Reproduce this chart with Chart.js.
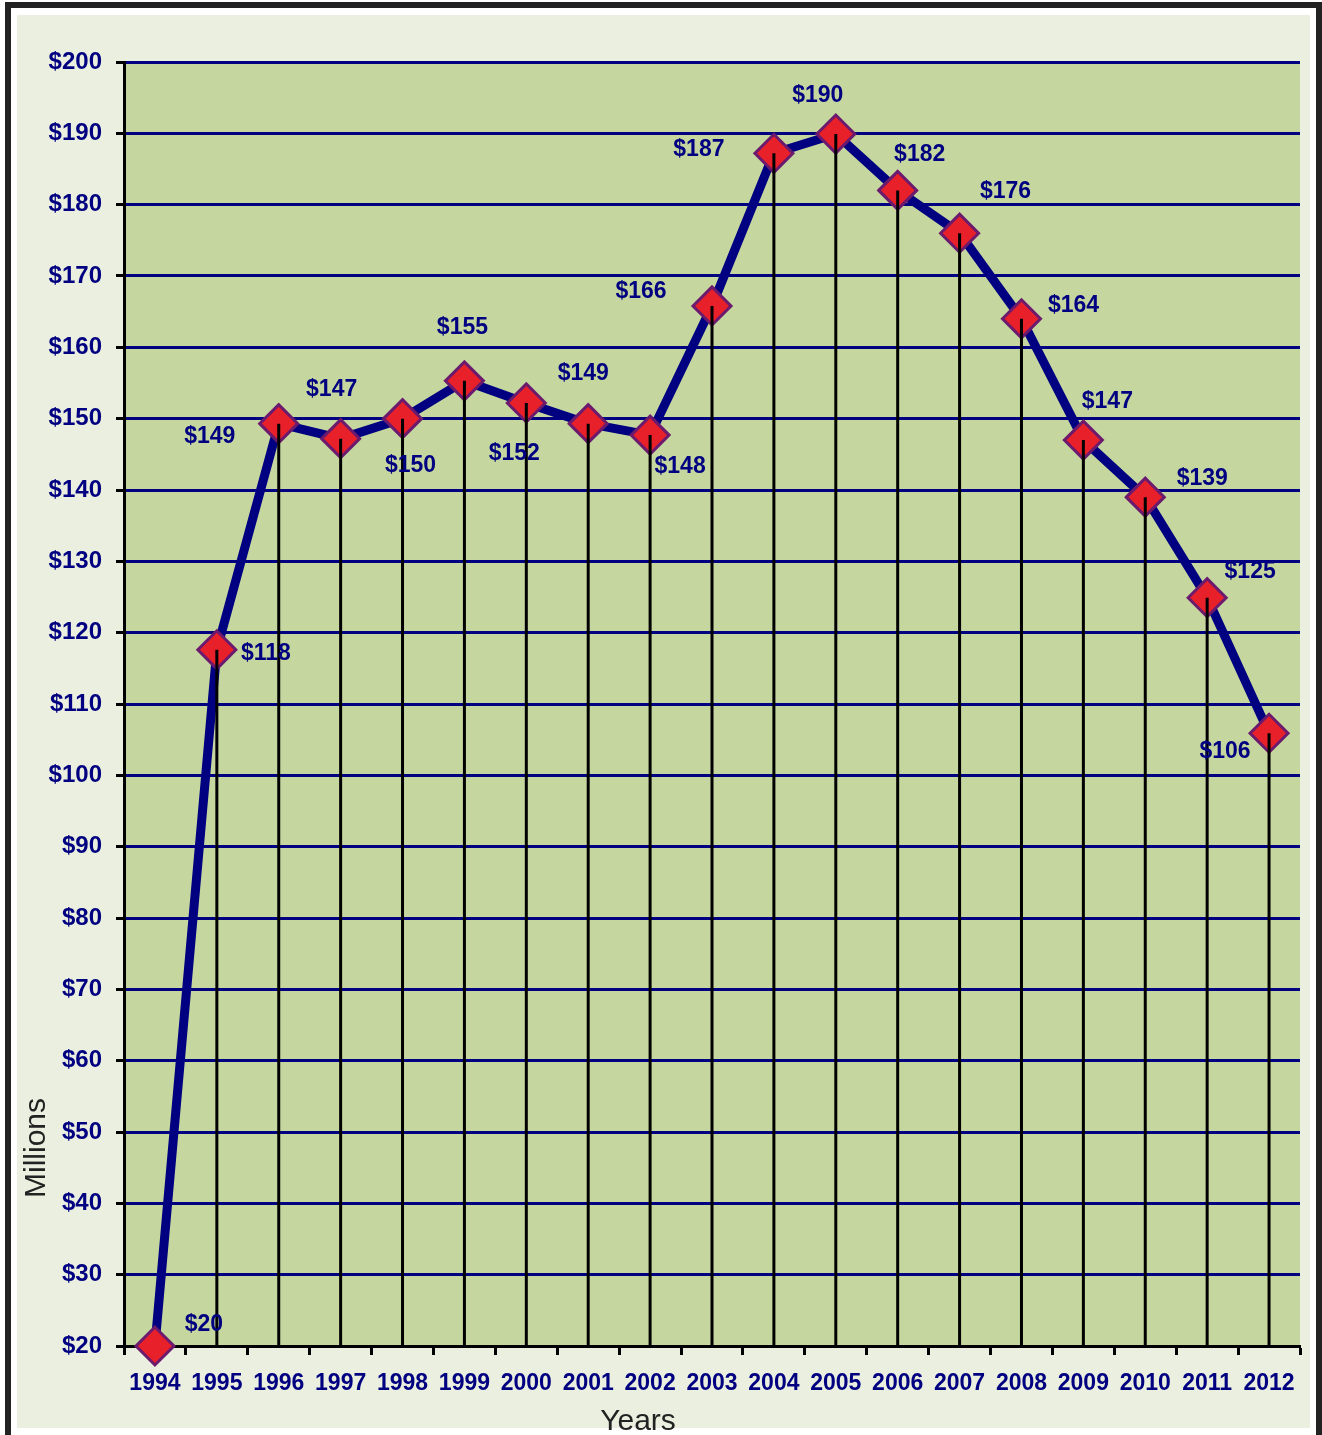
<!DOCTYPE html>
<html>
<head>
<meta charset="utf-8">
<script src="https://cdn.jsdelivr.net/npm/chart.js@4.4.0/dist/chart.umd.min.js"></script>
<style>
body{margin:0;background:#fff;width:1322px;height:1435px;overflow:hidden;position:relative;}
#frame{position:absolute;left:5px;top:2px;width:1305px;height:1450px;border:6px solid #222;border-bottom:none;}
#panel{position:absolute;left:17px;top:15px;width:1293px;height:1413px;background:#ebefdf;}
#chart{position:absolute;left:0;top:0;}
</style>
</head>
<body>
<div id="frame"></div>
<div id="panel"><canvas id="chart" width="1293" height="1420"></canvas></div>
<script>
// ---------------- DATA ----------------
const years = ["1994","1995","1996","1997","1998","1999","2000","2001","2002","2003",
  "2004","2005","2006","2007","2008","2009","2010","2011","2012"];
const millions = [20, 117.6, 149.3, 147.2, 150, 155.3, 152.2, 149.3, 147.7, 165.8,
  187.2, 189.9, 182, 176, 164, 147, 139, 124.9, 105.9];
const yTicks = { min: 20, max: 200, step: 10 };

// label offsets from each point (px)
const labelDx = [49, 49, -69, -9, 8, -2, -12, -5, 30, -71, -75, -18, 22, 46, 52, 24, 57, 43, -44];
const labelDy = [-21, 4, 13, -49, 47, -53, 51, -50, 32, -14, -4, -38, -36, -42, -13, -38, -18, -26, 18];

const NAVY = "#000080";
const FONT = "'Liberation Sans', Arial, sans-serif";

// ---------------- PLUGINS ----------------
const plotBg = {
  id: "plotBg",
  beforeDraw(c){
    const a = c.chartArea, ctx = c.ctx;
    ctx.save();
    ctx.fillStyle = "#c5d79f";
    ctx.fillRect(a.left, a.top, a.right - a.left, a.bottom - a.top);
    ctx.restore();
  }
};

const dropLines = {
  id: "dropLines",
  afterDatasetsDraw(c){
    const ctx = c.ctx, a = c.chartArea;
    const pts = c.getDatasetMeta(0).data;
    ctx.save();
    ctx.strokeStyle = "#000";
    ctx.lineWidth = 3;
    pts.forEach(p => {
      ctx.beginPath();
      ctx.moveTo(p.x, p.y);
      ctx.lineTo(p.x, a.bottom);
      ctx.stroke();
    });
    // value labels
    ctx.fillStyle = NAVY;
    ctx.font = "bold 23px " + FONT;
    ctx.textAlign = "center";
    ctx.textBaseline = "middle";
    pts.forEach((p, i) => {
      ctx.fillText("$" + Math.round(millions[i]), p.x + labelDx[i], p.y + labelDy[i]);
    });
    ctx.restore();
  }
};

const axisTitles = {
  id: "axisTitles",
  afterDraw(c){
    const ctx = c.ctx;
    ctx.save();
    ctx.fillStyle = "#222";
    ctx.font = "30px " + FONT;
    ctx.textAlign = "center";
    ctx.textBaseline = "alphabetic";
    ctx.fillText("Years", 621, 1415);
    ctx.translate(28, 1133);
    ctx.rotate(-Math.PI / 2);
    ctx.fillText("Millions", 0, 0);
    ctx.restore();
  }
};

// ---------------- CHART ----------------
new Chart(document.getElementById("chart"), {
  type: "line",
  data: {
    labels: years,
    datasets: [{
      data: millions,
      borderColor: NAVY,
      borderWidth: 9,
      borderJoinStyle: "round",
      tension: 0,
      pointStyle: "rectRot",
      pointRadius: 19,
      pointHoverRadius: 19,
      pointBackgroundColor: "#e8202a",
      pointBorderColor: "#6b1a6e",
      pointBorderWidth: 3,
      clip: false
    }]
  },
  options: {
    responsive: false,
    animation: false,
    layout: { autoPadding: false, padding: { top: 47, right: 10, left: 0, bottom: 0 } },
    plugins: { legend: { display: false }, tooltip: { enabled: false } },
    scales: {
      x: {
        offset: true,
        afterFit: s => { s.height = 89; s.paddingLeft = 0; s.paddingRight = 0; },
        grid: { offset: true, drawOnChartArea: false, tickColor: "#000", tickLength: 9, tickWidth: 3 },
        border: { color: "#000", width: 3 },
        ticks: { autoSkip: false, maxRotation: 0, color: NAVY, padding: 15,
          font: { family: FONT, size: 23, weight: "bold" } }
      },
      y: {
        min: yTicks.min,
        max: yTicks.max,
        afterFit: s => { s.width = 107; },
        grid: { color: NAVY, lineWidth: 3, tickColor: "#000", tickLength: 8, tickWidth: 3 },
        border: { color: "#000", width: 3 },
        ticks: { stepSize: yTicks.step, color: NAVY, padding: 14,
          font: { family: FONT, size: 24, weight: "bold" },
          callback: v => "$" + v }
      }
    }
  },
  plugins: [plotBg, dropLines, axisTitles]
});
</script>
</body>
</html>
